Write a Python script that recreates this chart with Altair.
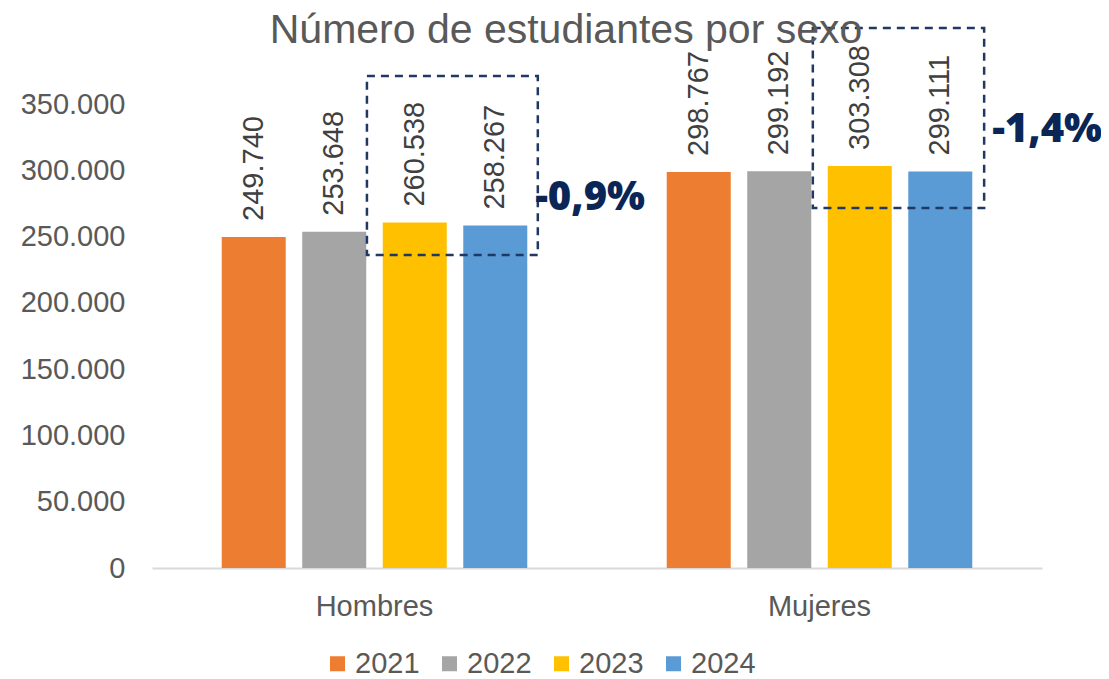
import altair as alt
import pandas as pd

# ---- data ----
categories = ["Hombres", "Mujeres"]
years = ["2021", "2022", "2023", "2024"]
hombres = [249740, 253648, 260538, 258267]
mujeres = [298767, 299192, 303308, 299111]
colors = ["#ED7D31", "#A5A5A5", "#FFC000", "#5B9BD5"]
y_ticks = [0, 50000, 100000, 150000, 200000, 250000, 300000, 350000]
title_text = "Número de estudiantes por sexo"

# annotation boxes (x in category-index space 0..2, y in data units)
box_x0 = [0.483, 1.485]
box_x1 = [0.867, 1.870]
box_y0 = [236100, 271550]
box_y1 = [371100, 407300]
pct_text = ["-0,9%", "-1,4%"]
pct_x = [0.861, 1.888]
pct_y = [279100, 330600]

rows = []
for cat, vals in zip(categories, [hombres, mujeres]):
    for yr, v in zip(years, vals):
        rows.append({"sexo": cat, "year": yr, "value": v})
df = pd.DataFrame(rows)
boxes = pd.DataFrame({"x0": box_x0, "x1": box_x1, "y0": box_y0, "y1": box_y1})
pcts = pd.DataFrame({"t": pct_text, "px": pct_x, "py": pct_y})
tdf = pd.DataFrame({"t": [title_text]})

yscale = alt.Scale(domain=[0, 350000], nice=False)
xscale = alt.Scale(paddingInner=0, paddingOuter=0)
offscale = alt.Scale(paddingInner=0.205, paddingOuter=0.866)
idx_scale = alt.Scale(domain=[0, 2], nice=False, zero=False)

yaxis = alt.Axis(values=y_ticks, format=",",
                 labelExpr="replace(replace(format(datum.value, ','), ',', '.'), ',', '.')",
                 labelFontSize=29, labelColor="#595959", labelFont="Liberation Sans",
                 grid=False, domain=False, ticks=False, labelPadding=27)
xaxis = alt.Axis(labelAngle=0, labelFontSize=29, labelColor="#595959",
                 labelFont="Liberation Sans", domainColor="#D9D9D9",
                 domainWidth=2, ticks=False, labelPadding=24)

base = alt.Chart(df)

bars = base.mark_bar().encode(
    x=alt.X("sexo:N", scale=xscale, sort=categories, title=None, axis=xaxis),
    xOffset=alt.XOffset("year:N", scale=offscale, sort=years),
    y=alt.Y("value:Q", scale=yscale, title=None, axis=yaxis),
    color=alt.Color("year:N", sort=years,
                    scale=alt.Scale(domain=years, range=colors),
                    legend=alt.Legend(title=None, orient="none", direction="horizontal",
                                      legendX=171, legendY=545, padding=0,
                                      symbolType="square", symbolSize=225,
                                      symbolStrokeWidth=0, symbolOpacity=1,
                                      labelFontSize=29, labelColor="#595959",
                                      labelFont="Liberation Sans", labelOffset=3,
                                      columnPadding=15)),
)

labels = base.mark_text(angle=270, align="left", baseline="middle", dx=16,
                        fontSize=29, font="Liberation Sans", color="#404040").encode(
    x=alt.X("sexo:N", scale=xscale, sort=categories, axis=None),
    xOffset=alt.XOffset("year:N", scale=offscale, sort=years),
    y=alt.Y("value:Q", scale=yscale, title=None, axis=yaxis),
    text=alt.Text("value:Q", format=","),
)

box_layer = alt.Chart(boxes).mark_rect(fillOpacity=0, stroke="#1F3864", strokeWidth=2.5,
                                       strokeDash=[8, 6]).encode(
    x=alt.X("x0:Q", scale=idx_scale, axis=None),
    x2="x1:Q",
    y=alt.Y("y0:Q", scale=yscale, title=None, axis=yaxis),
    y2="y1:Q",
)

pct_layer = alt.Chart(pcts).mark_text(align="left", baseline="middle", fontSize=40,
                                      font="Open Sans", fontWeight=800,
                                      color="#0A2656").encode(
    x=alt.X("px:Q", scale=idx_scale, axis=None),
    y=alt.Y("py:Q", scale=yscale, title=None, axis=yaxis),
    text="t:N",
)

title_layer = alt.Chart(tdf).mark_text(align="center", baseline="alphabetic", fontSize=41,
                                       font="Liberation Sans", color="#595959").encode(
    x=alt.value(414), y=alt.value(-61), text="t:N",
)

chart = alt.layer(bars, labels, box_layer, pct_layer, title_layer).resolve_scale(
    x="independent"
).properties(
    width=890, height=464,
    autosize=alt.AutoSizeParams(type="none"),
    padding={"left": 144, "top": 96, "right": 59, "bottom": 111},
).configure(
    view=alt.ViewConfig(strokeWidth=0),
    numberFormat=",",
    locale={"number": {"decimal": ",", "thousands": ".", "grouping": [3],
                       "currency": ["", " €"]}},
)

chart.save("out.html", embed_options={"renderer": "svg", "actions": False})
